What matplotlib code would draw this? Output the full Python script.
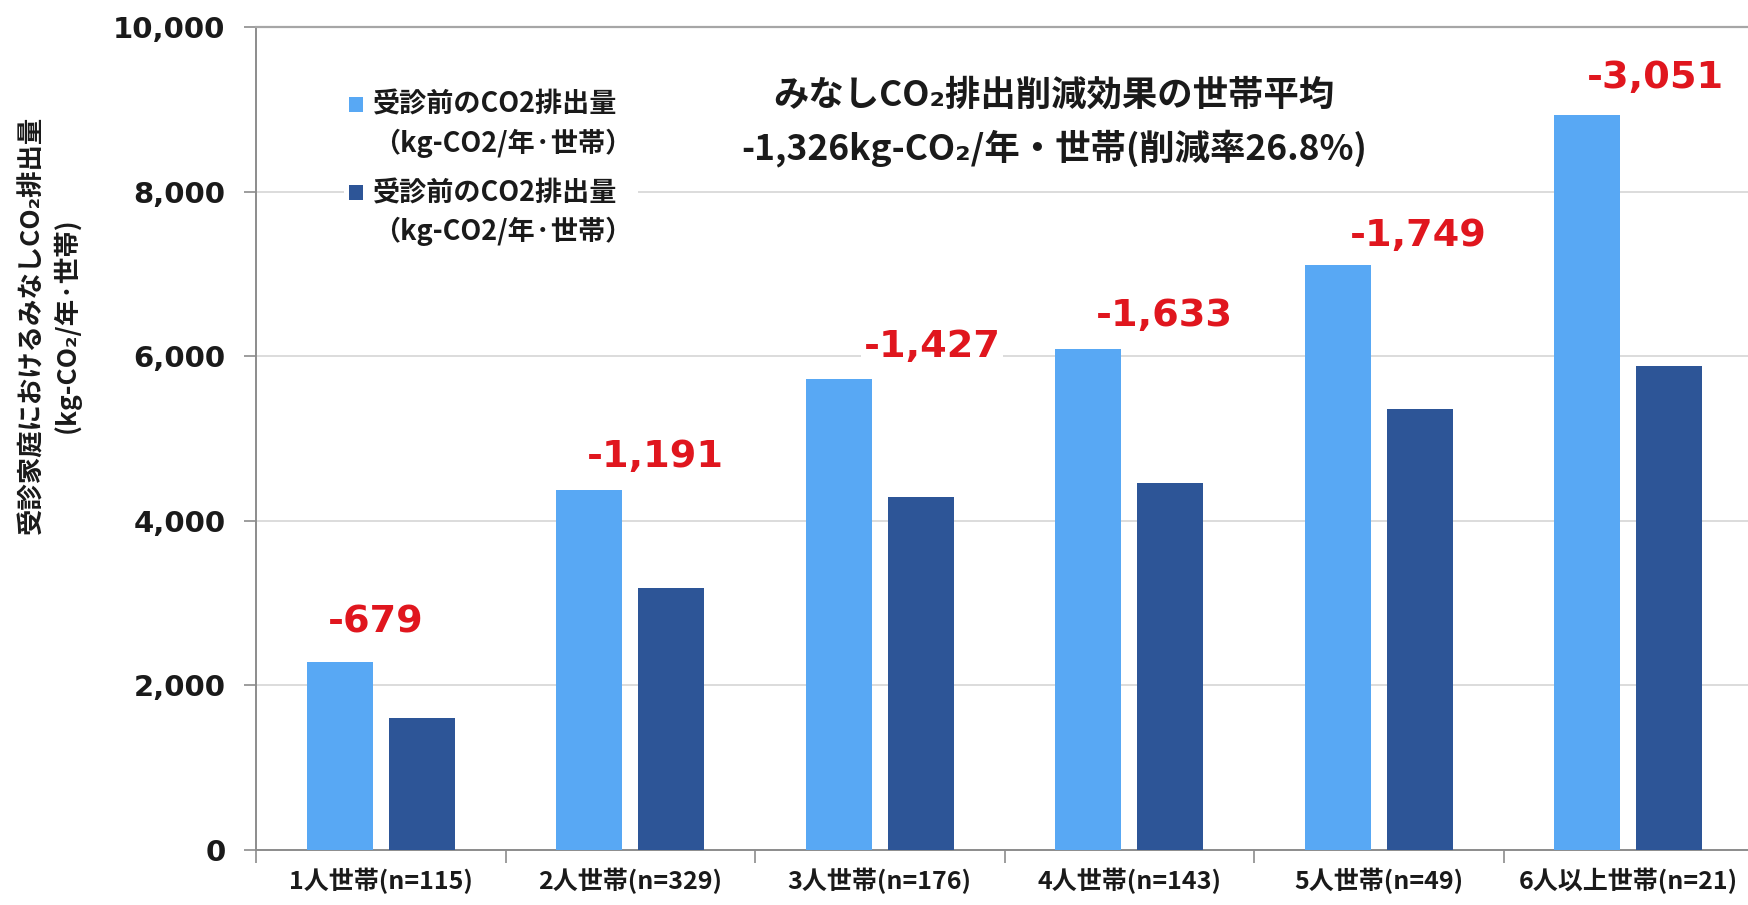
import matplotlib.pyplot as plt
from matplotlib.legend_handler import HandlerPatch
from matplotlib.patches import Rectangle
import numpy as np

plt.rcParams['font.family'] = ['Noto Sans CJK JP', 'DejaVu Sans']

# 世帯人数別のみなしCO2排出量 (kg-CO2/年・世帯)
categories = ['1人世帯(n=115)', '2人世帯(n=329)', '3人世帯(n=176)',
              '4人世帯(n=143)', '5人世帯(n=49)', '6人以上世帯(n=21)']
before = [2280, 4380, 5720, 6090, 7110, 8930]
reduction = [-679, -1191, -1427, -1633, -1749, -3051]
after = [b + r for b, r in zip(before, reduction)]

legend_label = '受診前のCO2排出量\n（kg-CO2/年·世帯）'
ylabel = '受診家庭におけるみなしCO₂排出量\n(kg-CO₂/年·世帯)'
title_1 = 'みなしCO₂排出削減効果の世帯平均'
title_2 = '-1,326kg-CO₂/年・世帯(削減率26.8%)'

c_before = '#58a8f4'
c_after = '#2d5597'
c_red = '#e0161e'

W, H = 1748, 905
fig = plt.figure(figsize=(W / 100, H / 100), dpi=100)
ax = fig.add_axes([256 / W, 55 / H, (1753 - 256) / W, (850 - 27) / H])

x = np.arange(len(categories))
bw = 0.264
off = 0.164
b1 = ax.bar(x - off, before, bw, color=c_before, zorder=3)
b2 = ax.bar(x + off, after, bw, color=c_after, zorder=3)

# 削減量のラベル (棒の少し上)
lab_dx = [-0.02, 0.10, 0.21, 0.14, 0.16, 0.11]
lab_dy = [490, 400, 390, 400, 350, 450]
for i, r in enumerate(reduction):
    ax.text(i + lab_dx[i], before[i] + lab_dy[i], f'{r:,}',
            ha='center', va='center', color=c_red, fontsize=27.5,
            fontweight='bold', family='DejaVu Sans', zorder=4,
            bbox=dict(facecolor='white', edgecolor='none', pad=2))

ax.set_xlim(-0.5, len(categories) - 0.5)
ax.set_ylim(0, 10000)
ax.set_yticks(np.arange(0, 10001, 2000))
ax.set_yticklabels([f'{v:,}' for v in range(0, 10001, 2000)],
                   family='DejaVu Sans', fontweight='bold', fontsize=21,
                   color='#1a1a1a')
ax.tick_params(axis='y', length=9, width=1.2, color='#8c8c8c', pad=13)
ax.set_xticks(x)
ax.set_xticklabels(categories, fontsize=18, fontweight='bold', color='#1a1a1a')
ax.tick_params(axis='x', length=0, pad=13)
ax.set_xticks(np.arange(-0.5, len(categories), 1), minor=True)
ax.tick_params(axis='x', which='minor', length=9, width=1.2, color='#8c8c8c')

ax.grid(axis='y', color='#d9d9d9', linewidth=1.3, zorder=0)
ax.set_axisbelow(True)
for side in ['left', 'bottom']:
    ax.spines[side].set_color('#8c8c8c')
    ax.spines[side].set_linewidth(1.4)
ax.spines['top'].set_color('#a6a6a6')
ax.spines['top'].set_linewidth(1.6)
ax.spines['right'].set_visible(False)


def first_line_square(legend, orig_handle, xdescent, ydescent, width, height, fontsize):
    # 凡例の四角を2行ラベルの1行目に揃える
    return Rectangle((-xdescent, -ydescent + 0.78 * fontsize), width, height)


leg = ax.legend([b1[0], b2[0]], [legend_label, legend_label], loc='upper left',
                bbox_to_anchor=(330 / W, 1 - 72 / H),
                bbox_transform=fig.transFigure, frameon=True,
                facecolor='white', edgecolor='none', framealpha=1,
                fontsize=19.5, handlelength=0.5, handleheight=0.5,
                handletextpad=0.4, labelspacing=0.8, borderpad=0.2,
                handler_map={Rectangle: HandlerPatch(patch_func=first_line_square)})
for t in leg.get_texts():
    t.set_fontweight('bold')
    t.set_linespacing(1.4)
    t.set_color('#1a1a1a')

fig.text(1054 / W, 1 - 95 / H, title_1, ha='center', va='center',
         fontsize=25.5, fontweight='bold', color='#1a1a1a',
         bbox=dict(facecolor='white', edgecolor='none', pad=2))
fig.text(1054 / W, 1 - 148 / H, title_2, ha='center', va='center',
         fontsize=25.5, fontweight='bold', color='#1a1a1a',
         bbox=dict(facecolor='white', edgecolor='none', pad=2))

fig.text(50 / W, 1 - 325 / H, ylabel, rotation=90, ha='center', va='center',
         multialignment='center', fontsize=19, fontweight='bold',
         linespacing=1.3, color='#1a1a1a')

fig.savefig('out.png', dpi=100, facecolor='white')
